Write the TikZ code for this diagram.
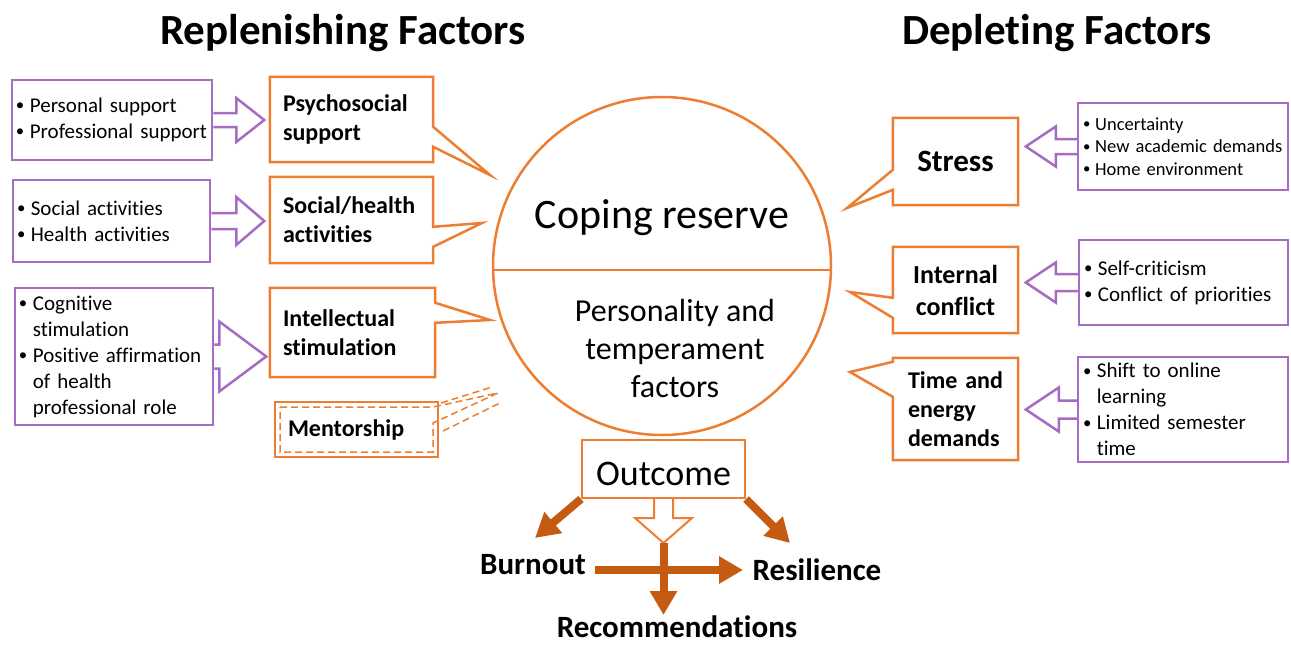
\documentclass[tikz,border=0pt]{standalone}
\usepackage{fontspec}
\setmainfont{Carlito}[Ligatures=NoCommon]
\usetikzlibrary{calc,arrows.meta}

\newcommand{\itm}[1]{\mbox{\makebox[0.66em][l]{\raisebox{0.08em}{\scalebox{0.8}{\textbullet}}}#1}}
\newcommand{\cnt}[1]{\mbox{\hspace*{0.66em}#1}}

\begin{document}
\begin{tikzpicture}[x=1pt, y=-1pt,
    items/.style={draw=lilac, line width=2.5pt, inner xsep=4pt, inner ysep=0pt, align=left,
        font=\fontsize{21}{26}\selectfont},
    factor/.style={inner xsep=13pt, inner ysep=0pt, align=left,
        font=\fontsize{24}{29}\selectfont\bfseries},
    callout/.style={draw=orangeLine, line width=2.5pt, line join=miter},
    hollow/.style={draw=lilac, line width=2.5pt, line join=miter},
    outArrow/.style={draw=rustLine, line width=8pt, -{Triangle[length=24pt, width=26pt]}},
    heading/.style={font=\fontsize{43}{50}\selectfont\bfseries},
    result/.style={font=\fontsize{31}{37}\selectfont\bfseries}]
    \definecolor{orangeLine}{HTML}{ED7D31}
    \definecolor{lilac}{HTML}{A56CC1}
    \definecolor{rustLine}{HTML}{C55A11}

    \useasboundingbox (0,0) rectangle (1291,646);

    % Headings
    \node[heading, anchor=base] (replenish) at (343,44) {Replenishing Factors};
    \node[heading, anchor=base] (deplete) at (1057,44) {Depleting Factors};

    % Coping reserve circle
    \node[draw=orangeLine, line width=2.5pt, circle, minimum size=338pt, inner sep=0pt] (reserve) at (662,266) {};
    \draw[orangeLine, line width=2.5pt] ($(reserve.center)+(-169,4)$) -- ($(reserve.center)+(169,4)$);
    \node[font=\fontsize{42}{50}\selectfont, anchor=base] (copingText) at (662,228) {Coping reserve};
    \node[align=center, font=\fontsize{32}{38}\selectfont] (temperament) at (675,349) {Personality and\\temperament\\factors};

    % Replenishing items (purple)
    \node[items, minimum width=200pt, minimum height=80pt, text width=192pt] (personal) at (112,120)
        {\itm{Personal support}\\\itm{Professional support}};
    \node[items, minimum width=197pt, minimum height=82pt, text width=189pt] (socialItems) at (111.5,221)
        {\itm{Social activities}\\\itm{Health activities}};
    \node[items, minimum width=198pt, minimum height=137pt, text width=190pt] (cognitive) at (114,356.5)
        {\itm{Cognitive}\\\cnt{stimulation}\\\itm{Positive affirmation}\\\cnt{of health}\\\cnt{professional role}};

    % Replenishing factors (orange callouts)
    \node[factor, minimum width=163pt, minimum height=85pt, text width=137pt] (psy) at (351.5,119.5) {Psychosocial\\support};
    \node[factor, minimum width=163pt, minimum height=86pt, text width=137pt] (socialAct) at (351.5,220) {Social/health\\activities};
    \node[factor, minimum width=165pt, minimum height=89pt, text width=139pt] (intel) at (352.5,332.5) {Intellectual\\stimulation};
    \node[factor, draw=orangeLine, line width=2pt, minimum width=163pt, minimum height=55pt, text width=137pt, inner xsep=13pt] (mentor) at (356.5,429.5) {Mentorship};

    \coordinate (psyTip) at (490,175);
    \coordinate (socialTip) at (482,223);
    \coordinate (intelTip) at (490,320);
    \coordinate (mentorTip) at (498,393);

    \draw[callout] (psy.north west) -- (psy.north east) -- ($(psy.north east)+(0,50)$) -- (psyTip)
        -- ($(psy.north east)+(0,70)$) -- (psy.south east) -- (psy.south west) -- cycle;
    \draw[callout] (socialAct.north west) -- (socialAct.north east) -- ($(socialAct.north east)+(0,50)$) -- (socialTip)
        -- ($(socialAct.north east)+(0,70)$) -- (socialAct.south east) -- (socialAct.south west) -- cycle;
    \draw[callout] (intel.north west) -- (intel.north east) -- ($(intel.north east)+(0,15)$) -- (intelTip)
        -- ($(intel.north east)+(0,35)$) -- (intel.south east) -- (intel.south west) -- cycle;

    % Mentorship: dashed inner line and dashed double pointer
    \draw[orangeLine, line width=1.5pt, dash pattern=on 7pt off 4pt]
        ($(mentor.north west)+(6,6)$) -- ($(mentor.north east)+(-6,6)$) -- (mentorTip)
        -- ($(mentor.north east)+(-6,22)$) -- ($(mentor.south east)+(-6,-6)$) -- ($(mentor.south west)+(6,-6)$) -- cycle;
    \draw[orangeLine, line width=1.5pt, dash pattern=on 7pt off 4pt]
        ($(mentor.north east)+(2,2)$) -- ($(mentorTip)+(-6,-6)$);
    \draw[orangeLine, line width=1.5pt, dash pattern=on 7pt off 4pt]
        ($(mentor.north east)+(4,30)$) -- ($(mentorTip)+(4,9)$);

    % Hollow arrows, items to factors
    \draw[hollow] ($(personal.east)+(0,-7)$) -- ++(23,0) -- ++(0,-15) -- ($(personal.east)+(51,0)$)
        -- ($(personal.east)+(23,22)$) -- ++(0,-15) -- ($(personal.east)+(0,7)$);
    \draw[hollow] ($(socialItems.east)+(0,-8)$) -- ++(25,0) -- ++(0,-16) -- ($(socialItems.east)+(53,0)$)
        -- ($(socialItems.east)+(25,24)$) -- ++(0,-16) -- ($(socialItems.east)+(0,8)$);
    \draw[hollow] ($(cognitive.east)+(0,-12)$) -- ++(5,0) -- ++(0,-23) -- ($(cognitive.east)+(52,0)$)
        -- ($(cognitive.east)+(5,35)$) -- ++(0,-23) -- ($(cognitive.east)+(0,12)$);

    % Depleting factors (orange callouts)
    \node[factor, align=center, font=\fontsize{31}{37}\selectfont\bfseries, minimum width=125pt, minimum height=87pt, text width=99pt] (stress) at (955.5,161.5) {Stress};
    \node[factor, align=center, font=\fontsize{26}{32}\selectfont\bfseries, minimum width=125pt, minimum height=86pt, text width=99pt] (internal) at (955.5,290) {Internal\\conflict};
    \node[factor, inner xsep=15pt, minimum width=125pt, minimum height=102pt, text width=95pt] (timeEnergy) at (955.5,409) {Time~and\\energy\\demands};

    \coordinate (stressTip) at (847,208);
    \coordinate (internalTip) at (850,292);
    \coordinate (timeTip) at (850,372);

    \draw[callout] (stress.north east) -- (stress.north west) -- ($(stress.north west)+(0,52)$) -- (stressTip)
        -- ($(stress.north west)+(0,72)$) -- (stress.south west) -- (stress.south east) -- cycle;
    \draw[callout] (internal.north east) -- (internal.north west) -- ($(internal.north west)+(0,51)$) -- (internalTip)
        -- ($(internal.north west)+(0,71)$) -- (internal.south west) -- (internal.south east) -- cycle;
    \draw[callout] (timeEnergy.north east) -- (timeEnergy.north west) -- ($(timeEnergy.north west)+(0,4)$) -- (timeTip)
        -- ($(timeEnergy.north west)+(0,39)$) -- (timeEnergy.south west) -- (timeEnergy.south east) -- cycle;

    % Depleting items (purple)
    \node[items, minimum width=210pt, minimum height=87pt, text width=200pt, inner xsep=5pt,
        font=\fontsize{18.5}{22.5}\selectfont] (uncertain) at (1183,146.5)
        {\itm{Uncertainty}\\\itm{New academic demands}\\\itm{Home environment}};
    \node[items, minimum width=209pt, minimum height=85pt, text width=199pt, inner xsep=5pt] (selfCrit) at (1183.5,282.5)
        {\itm{Self-criticism}\\\itm{Conflict of priorities}};
    \node[items, minimum width=210pt, minimum height=105pt, text width=200pt, inner xsep=5pt] (onlineShift) at (1183,409.5)
        {\itm{Shift to online}\\\cnt{learning}\\\itm{Limited semester}\\\cnt{time}};

    % Hollow arrows, items to factors
    \draw[hollow] ($(uncertain.west)+(0,-7.5)$) -- ++(-21,0) -- ++(0,-12.5) -- ($(uncertain.west)+(-51,0)$)
        -- ($(uncertain.west)+(-21,20)$) -- ++(0,-12.5) -- ($(uncertain.west)+(0,7.5)$);
    \draw[hollow] ($(selfCrit.west)+(0,-8.5)$) -- ++(-22,0) -- ++(0,-11.5) -- ($(selfCrit.west)+(-52,0)$)
        -- ($(selfCrit.west)+(-22,20)$) -- ++(0,-11.5) -- ($(selfCrit.west)+(0,8.5)$);
    \draw[hollow] ($(onlineShift.west)+(0,-9)$) -- ++(-18,0) -- ++(0,-13) -- ($(onlineShift.west)+(-51,0)$)
        -- ($(onlineShift.west)+(-18,22)$) -- ++(0,-13) -- ($(onlineShift.west)+(0,9)$);

    % Outcome
    \node[draw=orangeLine, line width=2pt, minimum width=163pt, minimum height=58pt, inner sep=0pt,
        text height=32pt, text depth=0pt, font=\fontsize{36}{43}\selectfont] (outcome) at (663.5,469) {Outcome};
    \node[result, anchor=base] (burnout) at (533,574) {Burnout};
    \node[result, anchor=base] (resilience) at (817,580) {Resilience};
    \node[result, anchor=base, inner sep=0pt] (recommend) at (677,637) {Recommendations};

    \coordinate (burnTip) at (535,538);
    \coordinate (resTip) at (790,543);
    \coordinate (downTip) at ($(outcome.south)+(0,44)$);
    \coordinate (recTip) at ($(downTip)+(0,72)$);
    \coordinate (crossLeft) at (595,570);
    \coordinate (crossRight) at (743,570);

    \draw[outArrow] (outcome.south west) -- (burnTip);
    \draw[outArrow] (outcome.south east) -- (resTip);
    \draw[orangeLine, line width=2pt, line join=miter, fill=white] ($(outcome.south)+(-9.5,0)$) -- ++(0,19) -- ++(-19,0)
        -- (downTip) -- ($(outcome.south)+(28.5,19)$) -- ++(-19,0) -- ($(outcome.south)+(9.5,0)$);
    \draw[outArrow] (downTip) -- (recTip);
    \draw[outArrow] (crossLeft) -- (crossRight);

\end{tikzpicture}
\end{document}
